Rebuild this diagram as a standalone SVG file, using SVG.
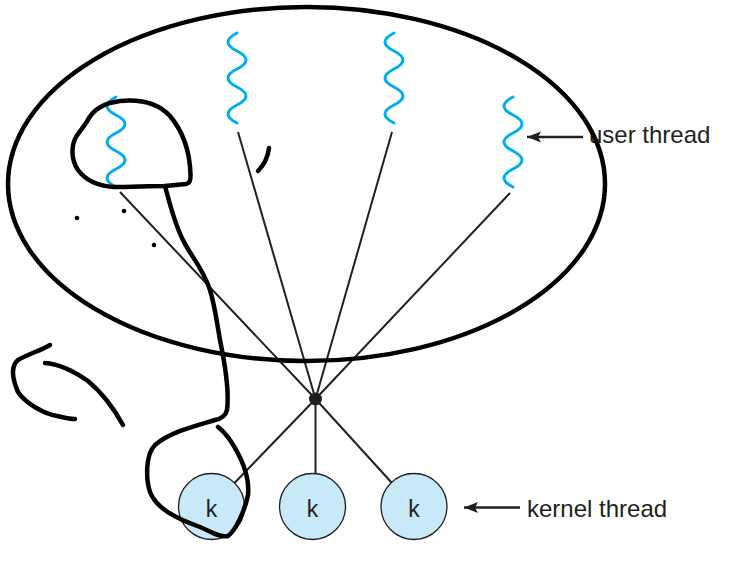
<svg xmlns="http://www.w3.org/2000/svg" width="752" height="574" viewBox="0 0 752 574">
<defs>
<style>
.conn{stroke:#231f20;stroke-width:2;fill:none}
.wave{stroke:#00aeef;stroke-width:3;fill:none;stroke-linecap:round}
.kc{fill:#c8e9f8;stroke:#231f20;stroke-width:1.3}
.kt{font-family:"Liberation Sans",Arial,sans-serif;font-size:23px;fill:#231f20;text-anchor:middle}
.lbl{font-family:"Liberation Sans",Arial,sans-serif;font-size:24px;fill:#231f20}
.ink{stroke:#000;stroke-width:4.5;fill:none;stroke-linecap:round;stroke-linejoin:round}
.arr{stroke:#231f20;stroke-width:2.4;fill:none}
</style>
<marker id="ah" markerUnits="userSpaceOnUse" markerWidth="15" markerHeight="12" refX="14" refY="5.5" orient="auto">
<path d="M0,0 L14,5.5 L0,11 L3,5.5 Z" fill="#231f20"/>
</marker>
</defs>
<rect width="752" height="574" fill="#fff"/>
<g id="connectors">
<line class="conn" x1="315.5" y1="399" x2="238" y2="132"/>
<line class="conn" x1="315.5" y1="399" x2="392" y2="132"/>
<line class="conn" x1="315.5" y1="399" x2="510" y2="193"/>
<line class="conn" x1="315.5" y1="399" x2="120" y2="192"/>
<line class="conn" x1="315.5" y1="399" x2="234.5" y2="483"/>
<line class="conn" x1="315.5" y1="399" x2="315.5" y2="474"/>
<line class="conn" x1="315.5" y1="399" x2="391.5" y2="482.5"/>
<line class="arr" x1="583" y1="137" x2="527" y2="137" marker-end="url(#ah)"/>
<line class="arr" x1="520" y1="507.5" x2="464" y2="507.5" marker-end="url(#ah)"/>
</g>
<g id="hub"><circle cx="315.5" cy="399" r="6.5" fill="#231f20"/></g>
<g id="user-thread-1"><path class="wave" d="M116,97 q-18,9 0,18 t0,18 t0,18 t0,18 t0,18"/></g>
<g id="user-thread-2"><path class="wave" d="M237,33 q-18,9 0,18 t0,18 t0,18 t0,18 t0,18"/></g>
<g id="user-thread-3"><path class="wave" d="M394,33 q-18,9 0,18 t0,18 t0,18 t0,18 t0,18"/></g>
<g id="user-thread-4"><path class="wave" d="M513,97 q-18,9 0,18 t0,18 t0,18 t0,18 t0,18"/></g>
<g id="kernel-1"><circle class="kc" cx="211.5" cy="506.5" r="33"/><text class="kt" x="211.5" y="516.5">k</text></g>
<g id="kernel-2"><circle class="kc" cx="312.5" cy="506.5" r="33"/><text class="kt" x="312.5" y="516.5">k</text></g>
<g id="kernel-3"><circle class="kc" cx="414" cy="506.5" r="33"/><text class="kt" x="414" y="516.5">k</text></g>
<g id="label-user"><text class="lbl" x="589" y="143">user thread</text></g>
<g id="label-kernel"><text class="lbl" x="527" y="516.5">kernel thread</text></g>
<g id="process"><ellipse class="ink" cx="306.5" cy="184" rx="298.5" ry="177"/></g>
<g id="annotations">
<path class="ink" d="M165,186 L186,184 Q191,183 190.5,175 C190,155 186,135 170,116 C157,102 140,99 120,101 C105,103 95,108 89,118 C85,126 80,130 76,137 C71,146 71,160 78,170 C86,181 98,186 114,187 C130,187 150,186 165,186 Z"/>
<path class="ink" d="M165,186 C170,205 175,225 183,240 C190,255 203,268 210,290 C216,310 217,325 221,345 C226,370 229,395 227,410 Q225,418 215,420 C195,426 170,432 155,445 C145,455 146,480 150,492 C156,508 175,518 200,527 C210,531 220,538 228,536 C236,530 245,510 248,495 C250,475 240,455 230,440 C226,434 222,430 218,427"/>
<path class="ink" d="M50,345 C40,351 30,353 18,360 C11,366 12,378 18,392 C26,404 45,414 57,416 C65,418 70,419 75,419"/>
<path class="ink" d="M45,363 C60,364 75,372 88,381 C100,391 112,405 123,425"/>
<path class="ink" d="M269,148 C268,156 265,164 258,171"/>
<circle cx="77" cy="218" r="2.3" fill="#000"/>
<circle cx="124" cy="211" r="2.3" fill="#000"/>
<circle cx="154" cy="245" r="2.3" fill="#000"/>
</g>
</svg>
